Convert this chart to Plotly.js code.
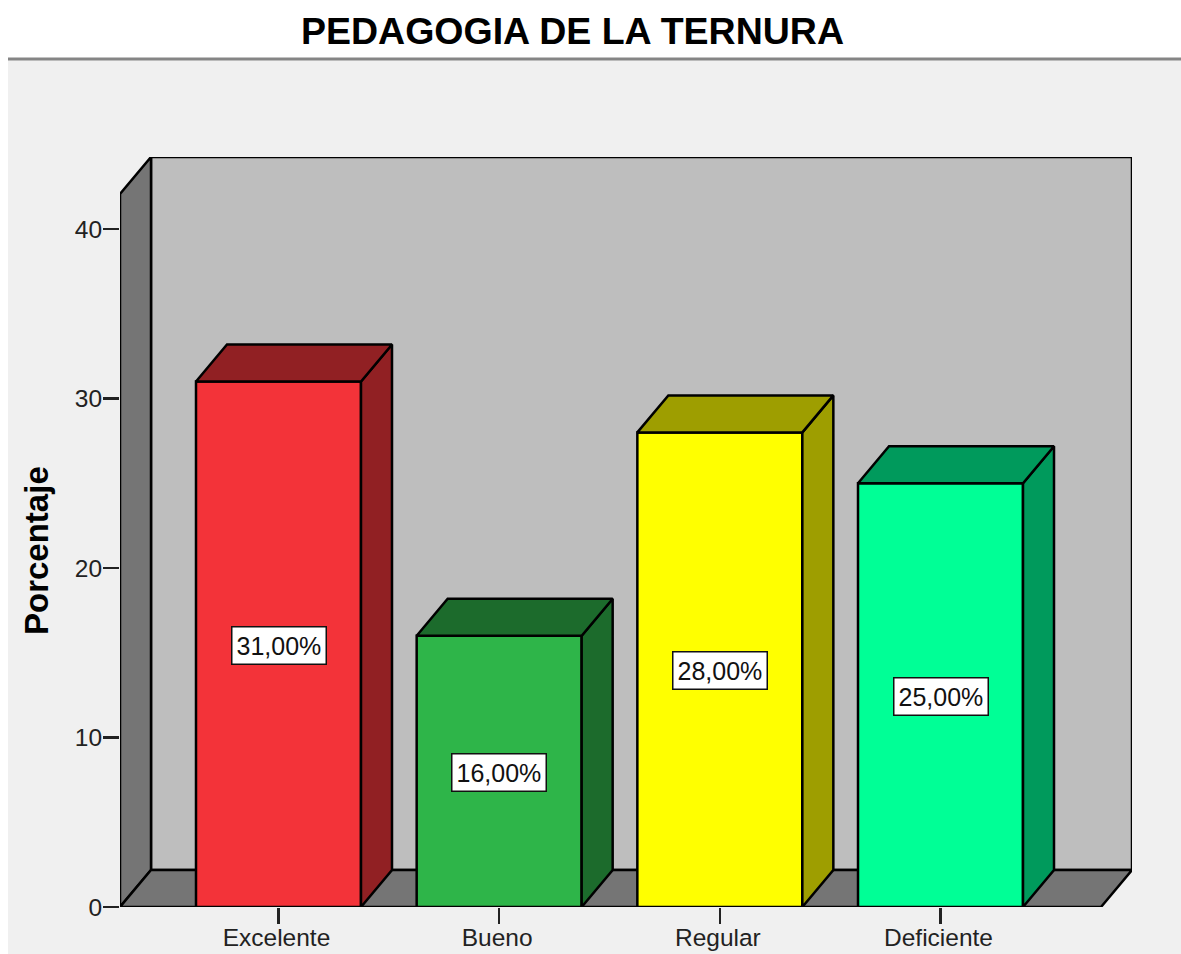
<!DOCTYPE html>
<html>
<head>
<meta charset="utf-8">
<script src="https://cdn.plot.ly/plotly-3.0.1.min.js"></script>
<style>html,body{margin:0;padding:0;background:#fff}#chart{width:1181px;height:954px}</style>
</head>
<body>
<div id="chart"></div>
<script>
const categories = ["Excelente", "Bueno", "Regular", "Deficiente"];
const values = [31, 16, 28, 25];
const valueLabels = ["31,00%", "16,00%", "28,00%", "25,00%"];
const frontColors = ["#f33339", "#2eb549", "#ffff00", "#00ff96"];
const shadeColors = ["#912023", "#1c6b2c", "#9e9e00", "#009a5c"];
const yTicks = [0, 10, 20, 30, 40];

const W = 1181, H = 954;
const L = 120, R = 1132, T = 157, B = 907;
const pxPerCat = 220.67, pxPerUnit = 16.95;
const x0px = 278.5;
const xMin = (L - x0px) / pxPerCat, xMax = (R - x0px) / pxPerCat;
const yMax = (B - T) / pxPerUnit;
const dx = 31 / pxPerCat, dy = 37 / pxPerUnit;
const barW = 165 / pxPerCat;
const FONT = '"Liberation Sans", Arial, sans-serif';

const xs = categories.map((_, i) => i);
const traces = [{
  type: "bar", x: xs, y: values, width: barW,
  marker: {color: frontColors, line: {color: "#000", width: 2.5}},
  hoverinfo: "skip", showlegend: false
}];
xs.forEach((x, i) => {
  const v = values[i], l = x - barW / 2, r = x + barW / 2;
  const face = (px, py) => ({
    type: "scatter", mode: "lines", x: px, y: py, fill: "toself",
    fillcolor: shadeColors[i], line: {color: "#000", width: 2.5},
    hoverinfo: "skip", showlegend: false
  });
  traces.push(face([r, r + dx, r + dx, r, r], [0, dy, v + dy, v, 0]));
  traces.push(face([l, l + dx, r + dx, r, l], [v, v + dy, v + dy, v, v]));
});

const poly = (pts, fill) => ({
  type: "path", layer: "below", xref: "x", yref: "y",
  path: "M" + pts.map(p => p[0] + "," + p[1]).join("L") + "Z",
  fillcolor: fill, line: {color: "#000", width: 2.5}
});
const px = v => (v - L) / (R - L), py = v => (B - v) / (B - T);
const shapes = [
  {type: "rect", layer: "below", xref: "paper", yref: "paper",
   x0: px(8), x1: px(W), y0: py(H), y1: py(59), fillcolor: "#f0f0f0", line: {width: 0}},
  {type: "line", layer: "below", xref: "paper", yref: "paper",
   x0: px(8), x1: px(W), y0: py(59), y1: py(59), line: {color: "#858585", width: 3}},
  poly([[xMin + dx, dy], [xMax, dy], [xMax, yMax], [xMin + dx, yMax]], "#bebebe"),
  poly([[xMin, 0], [xMin, yMax - dy], [xMin + dx, yMax], [xMin + dx, dy]], "#757575"),
  poly([[xMin, 0], [xMax - dx, 0], [xMax, dy], [xMin + dx, dy]], "#757575")
];

const annotations = xs.map((x, i) => ({
  x: x, y: values[i] / 2, xref: "x", yref: "y", text: valueLabels[i], showarrow: false,
  font: {family: FONT, size: 25, color: "#111"},
  bgcolor: "#fff", bordercolor: "#111", borderwidth: 1.5, borderpad: 4,
  xanchor: "center", yanchor: "middle", yshift: -1
}));
annotations.push({
  xref: "paper", yref: "paper", x: px(36), y: py(551), text: "<b>Porcentaje</b>", textangle: -90,
  showarrow: false, xanchor: "center", yanchor: "middle",
  font: {family: FONT, size: 33, color: "#000"}
});

Plotly.newPlot("chart", traces, {
  width: W, height: H,
  margin: {l: L, r: W - R, t: T, b: H - B, pad: 0},
  paper_bgcolor: "#fff", plot_bgcolor: "rgba(0,0,0,0)",
  showlegend: false, hovermode: false, bargap: 0,
  title: {text: "<b>PEDAGOGIA DE LA TERNURA</b>", x: px(572.5), xanchor: "center", xref: "paper",
          y: 1 - 31 / H, yanchor: "middle", font: {family: FONT, size: 37.5, color: "#000"}},
  xaxis: {range: [xMin, xMax], tickmode: "array", tickvals: xs, ticktext: categories,
          ticks: "outside", ticklen: 16, tickwidth: 2.5, tickcolor: "#222",
          showgrid: false, zeroline: false, showline: false, ticklabelstandoff: -7, ticklabelshift: -2,
          tickfont: {family: FONT, size: 24.5, color: "#222"}},
  yaxis: {range: [0, yMax], tickmode: "array", tickvals: yTicks, ticktext: yTicks.map(String),
          ticks: "outside", ticklen: 16, tickwidth: 2.5, tickcolor: "#222",
          showgrid: false, zeroline: false, showline: false, ticklabelstandoff: -4,
          tickfont: {family: FONT, size: 24.5, color: "#222"}},
  shapes, annotations
}, {displayModeBar: false, staticPlot: true});
</script>
</body>
</html>
